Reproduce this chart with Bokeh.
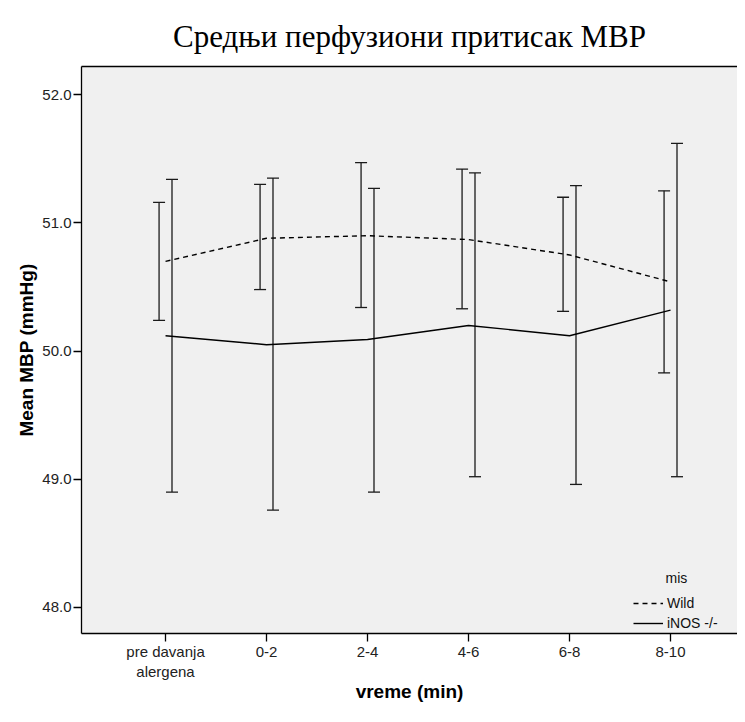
from bokeh.plotting import figure
from bokeh.models import (ColumnDataSource, FixedTicker, NumeralTickFormatter, Whisker,
                          TeeHead, Legend, Label, LinearAxis, Title)
from bokeh.transform import dodge
from bokeh.embed import file_html
from bokeh.resources import INLINE

title_text = "Средњи перфузиони притисак МВР"
categories = ["pre davanja\nalergena", "0-2", "2-4", "4-6", "6-8", "8-10"]
x_pos = [0, 1, 2, 3, 4, 5]
wild_mean = [50.70, 50.88, 50.90, 50.87, 50.75, 50.54]
wild_low = [50.24, 50.48, 50.34, 50.33, 50.31, 49.83]
wild_high = [51.16, 51.30, 51.47, 51.42, 51.20, 51.25]
inos_mean = [50.12, 50.05, 50.09, 50.20, 50.12, 50.32]
inos_low = [48.90, 48.76, 48.90, 49.02, 48.96, 49.02]
inos_high = [51.34, 51.35, 51.27, 51.39, 51.29, 51.62]
y_ticks = [48, 49, 50, 51, 52]

src = ColumnDataSource(dict(x=x_pos, wm=wild_mean, wl=wild_low, wh=wild_high,
                            im=inos_mean, il=inos_low, ih=inos_high))

SANS = "Liberation Sans"
p = figure(width=737, height=714, output_backend="svg", toolbar_location=None,
           x_range=(-0.832, 5.663), y_range=(47.797, 52.22),
           min_border_left=81, min_border_right=0, min_border_top=66, min_border_bottom=81,
           background_fill_color="#f0f0f0", border_fill_color="white",
           outline_line_color=None)
p.title = Title(text=title_text, text_font="Liberation Serif",
                text_font_size="31px", text_font_style="normal", align="center",
                vertical_align="middle", text_color="black", standoff=24)
p.grid.visible = False

# axes
p.xaxis.ticker = FixedTicker(ticks=x_pos)
p.xaxis.major_label_overrides = {i: c for i, c in zip(x_pos, categories)}
p.yaxis.ticker = FixedTicker(ticks=y_ticks)
p.yaxis.formatter = NumeralTickFormatter(format="0.0")
for ax in (p.xaxis[0], p.yaxis[0]):
    ax.axis_line_color = "black"
    ax.axis_line_width = 1.3
    ax.major_tick_line_color = "black"
    ax.major_tick_line_width = 1.3
    ax.major_tick_in = 0
    ax.major_tick_out = 8
    ax.minor_tick_line_color = None
    ax.major_label_text_font = SANS
    ax.major_label_text_font_size = "15px"
    ax.major_label_text_color = "#222222"
    ax.axis_label_text_font = SANS
    ax.axis_label_text_font_style = "bold"
    ax.axis_label_text_font_size = "19px"
    ax.axis_label_text_color = "black"
p.yaxis.major_label_standoff = 2
p.xaxis.major_label_standoff = 1
p.xaxis.axis_label = "vreme (min)"
p.yaxis.axis_label = "Mean MBP (mmHg)"
p.xaxis.axis_label_standoff = -2
p.yaxis.axis_label_standoff = 2

top_axis = LinearAxis(ticker=FixedTicker(ticks=[]), major_label_text_font_size="0px",
                      major_tick_out=0, minor_tick_out=0, axis_line_color="black",
                      axis_line_width=1.3)
p.add_layout(top_axis, "above")

# lines
r_wild = p.line("x", "wm", source=src, line_color="black", line_width=1.4, line_dash="5 4")
r_inos = p.line("x", "im", source=src, line_color="black", line_width=1.4)

# error bars
for base, lo, hi in ((dodge("x", -0.064), "wl", "wh"), (dodge("x", 0.064), "il", "ih")):
    w = Whisker(source=src, base=base, lower=lo, upper=hi, dimension="height",
                line_color="#1a1a1a", line_width=1.3,
                upper_head=TeeHead(size=12, line_color="#1a1a1a", line_width=1.3),
                lower_head=TeeHead(size=12, line_color="#1a1a1a", line_width=1.3))
    p.add_layout(w)

legend = Legend(items=[("Wild", [r_wild]), ("iNOS -/-", [r_inos])], location=(552, 0),
                glyph_width=30, glyph_height=20, label_height=20, spacing=0, padding=0,
                margin=0, border_line_color=None, background_fill_alpha=0,
                label_text_font=SANS, label_text_font_size="14px", label_standoff=4,
                label_text_color="#111111")
p.add_layout(legend)
p.add_layout(Label(x=584, y=56, x_units="screen", y_units="screen", text="mis",
                   text_font=SANS, text_font_size="14px", text_baseline="middle",
                   text_color="#111111"))

open("out.html", "w").write(file_html(p, INLINE))
